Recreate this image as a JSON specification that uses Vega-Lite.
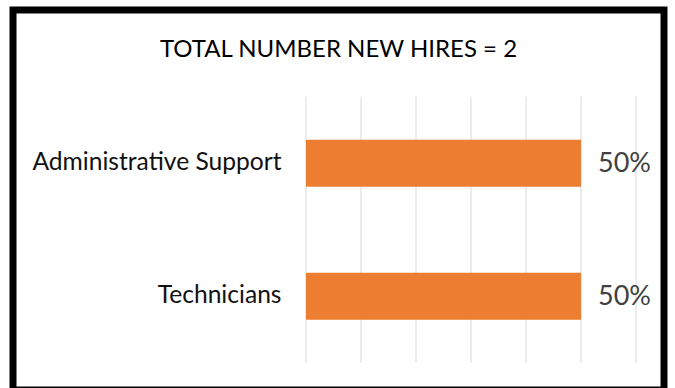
{
  "$schema": "https://vega.github.io/schema/vega-lite/v6.json",
  "autosize": "none",
  "padding": {"left": 13, "top": 10, "right": 11, "bottom": 0},
  "width": 651,
  "height": 380,
  "background": "white",
  "title": {
    "text": "TOTAL NUMBER NEW HIRES = 2",
    "font": "Lato",
    "fontSize": 24,
    "fontWeight": "normal",
    "color": "#000000",
    "anchor": "middle",
    "baseline": "alphabetic",
    "offset": -71
  },
  "datasets": {
    "bars": [
      {"category": "Administrative Support", "share": 0.5},
      {"category": "Technicians", "share": 0.5}
    ],
    "grid": [
      {"tick": 0}, {"tick": 0.1}, {"tick": 0.2}, {"tick": 0.3},
      {"tick": 0.4}, {"tick": 0.5}, {"tick": 0.6}
    ]
  },
  "layer": [
    {
      "data": {"name": "grid"},
      "mark": {"type": "rule", "color": "#d9d9d9", "strokeWidth": 1},
      "encoding": {
        "x": {
          "field": "tick",
          "type": "quantitative",
          "scale": {"domain": [0, 0.6], "range": [293, 623], "nice": false},
          "axis": null
        },
        "y": {"datum": 0, "type": "quantitative", "scale": {"domain": [0, 1], "range": [86.5, 353]}, "axis": null},
        "y2": {"datum": 1}
      }
    },
    {
      "data": {"name": "bars"},
      "encoding": {
        "y": {
          "field": "category",
          "type": "nominal",
          "sort": ["Administrative Support", "Technicians"],
          "scale": {"range": [86.5, 353], "paddingInner": 0.6466, "paddingOuter": 0.325},
          "axis": {
            "title": null,
            "domain": false,
            "ticks": false,
            "tickSize": 0,
            "labelPadding": 0,
            "offset": -268,
            "labelFont": "Lato",
            "labelFontSize": 24.6,
            "labelColor": "#111111",
            "labelLimit": 400,
            "grid": false
          }
        },
        "x": {
          "field": "share",
          "type": "quantitative",
          "axis": null
        }
      },
      "layer": [
        {"mark": {"type": "bar", "color": "#ED7D31"}},
        {
          "mark": {"type": "text", "align": "left", "baseline": "middle", "dx": 17, "dy": 1, "font": "Lato", "fontSize": 27, "color": "#404040"},
          "encoding": {"text": {"field": "share", "type": "quantitative", "format": ".0%"}}
        }
      ]
    }
  ],
  "resolve": {"scale": {"y": "independent"}},
  "config": {
    "view": {"stroke": "#000000", "strokeWidth": 7}
  }
}
